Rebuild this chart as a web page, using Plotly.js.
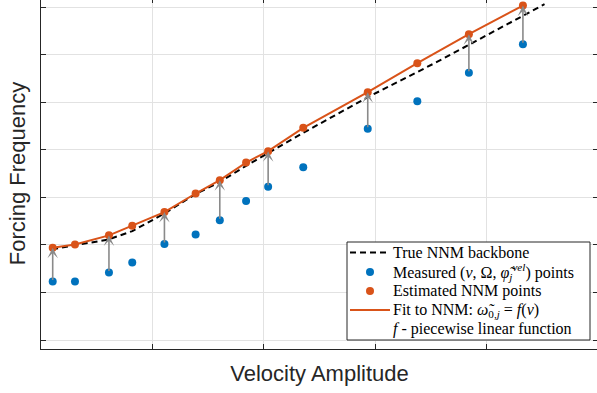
<!DOCTYPE html>
<html>
<head>
<meta charset="utf-8">
<script src="https://cdn.plot.ly/plotly-3.0.1.min.js"></script>
<style>
  html, body { margin: 0; padding: 0; overflow: hidden; background: #ffffff; width: 597px; height: 393px; }
  #chart { position: absolute; left: 0; top: -2px; width: 600px; height: 396px; }
</style>
</head>
<body>
<div id="chart"></div>
<script>
// Velocity amplitude of each measurement / estimate (arbitrary units)
const vel = [0.105, 0.305, 0.610, 0.819, 1.108, 1.388, 1.605, 1.841, 2.039, 2.354, 2.933, 3.378, 3.841, 4.326];
// Measured forcing frequency (blue)
const freqMeasured = [1.23, 1.23, 1.42, 1.63, 2.02, 2.22, 2.52, 2.92, 3.22, 3.63, 4.44, 5.02, 5.62, 6.22];
// Estimated NNM frequency (orange)
const freqEstimated = [1.94, 2.01, 2.20, 2.40, 2.69, 3.08, 3.36, 3.73, 3.97, 4.46, 5.21, 5.82, 6.43, 7.03];
// True NNM backbone (black dashed)
const backboneVel = [0.10, 0.31, 0.60, 0.82, 1.10, 1.39, 1.61, 1.84, 2.04, 2.35, 2.93, 3.55, 4.52];
const backboneFreq = [1.91, 1.99, 2.11, 2.29, 2.65, 3.07, 3.33, 3.66, 3.93, 4.35, 5.10, 5.84, 7.06];
// Indices of points that carry a correction arrow
const arrowIdx = [0, 2, 4, 6, 8, 10, 12, 13];

const names = [
  'True NNM backbone',
  'Measured (<i>v</i>, Ω, <i>φ̃</i><sub><i>j</i></sub><sup><i>vel</i></sup>) points',
  'Estimated NNM points',
  'Fit to NNM: <i>ω̃</i><sub>0,<i>j</i></sub> = <i>f</i>(<i>v</i>)',
  '<i>f</i> - piecewise linear function'
];

const blue = '#0072BD';
const orange = '#D95319';
const axisCol = '#262626';

const traces = [
  { x: backboneVel, y: backboneFreq, mode: 'lines', name: names[0],
    line: { color: '#000000', width: 2, dash: '6px,4px' } },
  { x: vel, y: freqMeasured, mode: 'markers', name: names[1],
    marker: { color: blue, size: 8 } },
  { x: vel, y: freqEstimated, mode: 'markers', name: names[2],
    marker: { color: orange, size: 8 } },
  { x: vel, y: freqEstimated, mode: 'lines', name: names[3],
    line: { color: orange, width: 2 } }
];

const annotations = arrowIdx.map(i => ({
  x: vel[i], y: freqEstimated[i], ax: vel[i], ay: freqMeasured[i],
  xref: 'x', yref: 'y', axref: 'x', ayref: 'y',
  text: '', showarrow: true, arrowhead: 3, arrowsize: 1.1, arrowwidth: 1.6,
  arrowcolor: '#8a8a8a', standoff: 0, startstandoff: 0
}));

// ---- hand-built legend (layout positions in page pixels) ----
const plotL = 41, plotW = 557, plotBottom = 349, plotH = 351;
const px = v => (v - plotL) / plotW;
const py = v => (plotBottom - v) / plotH;

const legBox = { x0: 347, x1: 590, y0: 242, y1: 340 };
const rowY = [252.5, 272, 291, 310, 328.5];
const textX = 392;
const symX0 = 350, symX1 = 390, symXc = 370, dotR = 4;

const shapes = [
  { type: 'rect', xref: 'paper', yref: 'paper', layer: 'above',
    x0: px(legBox.x0), x1: px(legBox.x1), y0: py(legBox.y1), y1: py(legBox.y0),
    fillcolor: '#ffffff', line: { color: axisCol, width: 1 } },
  { type: 'line', xref: 'paper', yref: 'paper', layer: 'above',
    x0: px(symX0), x1: px(symX1), y0: py(rowY[0]), y1: py(rowY[0]),
    line: { color: '#000000', width: 2, dash: '6px,4px' } },
  { type: 'circle', xref: 'paper', yref: 'paper', layer: 'above',
    x0: px(symXc - dotR), x1: px(symXc + dotR), y0: py(rowY[1] + dotR), y1: py(rowY[1] - dotR),
    fillcolor: blue, line: { width: 0 } },
  { type: 'circle', xref: 'paper', yref: 'paper', layer: 'above',
    x0: px(symXc - dotR), x1: px(symXc + dotR), y0: py(rowY[2] + dotR), y1: py(rowY[2] - dotR),
    fillcolor: orange, line: { width: 0 } },
  { type: 'line', xref: 'paper', yref: 'paper', layer: 'above',
    x0: px(symX0), x1: px(symX1), y0: py(rowY[3]), y1: py(rowY[3]),
    line: { color: orange, width: 2 } }
];

names.forEach((n, k) => {
  annotations.push({
    xref: 'paper', yref: 'paper', x: px(textX), y: py(rowY[k]),
    xanchor: 'left', yanchor: 'middle', showarrow: false, text: n,
    font: { family: 'Liberation Serif, Times New Roman, serif', size: 16, color: '#000000' },
    borderpad: 0
  });
});

const axisCommon = {
  showline: true, linecolor: axisCol, linewidth: 1, mirror: 'ticks',
  ticks: 'inside', ticklen: 5, tickwidth: 1, tickcolor: axisCol,
  showticklabels: false, showgrid: true, gridcolor: '#e2e2e2', gridwidth: 1,
  zeroline: false, tick0: 0, dtick: 1, fixedrange: true
};

const layout = {
  width: 600, height: 396,
  margin: { l: 41, r: 2, t: 0, b: 45 },
  paper_bgcolor: '#ffffff', plot_bgcolor: '#ffffff',
  showlegend: false,
  xaxis: Object.assign({}, axisCommon, {
    range: [0, 5],
    title: { text: 'Velocity Amplitude', font: { family: 'Liberation Sans, Arial, sans-serif', size: 22, color: axisCol }, standoff: 16 }
  }),
  yaxis: Object.assign({}, axisCommon, {
    range: [-0.189, 7.19],
    title: { text: 'Forcing Frequency', font: { family: 'Liberation Sans, Arial, sans-serif', size: 22, color: axisCol }, standoff: 8 }
  }),
  shapes: shapes,
  annotations: annotations
};

Plotly.newPlot('chart', traces, layout, { displayModeBar: false, staticPlot: true });
</script>
</body>
</html>
